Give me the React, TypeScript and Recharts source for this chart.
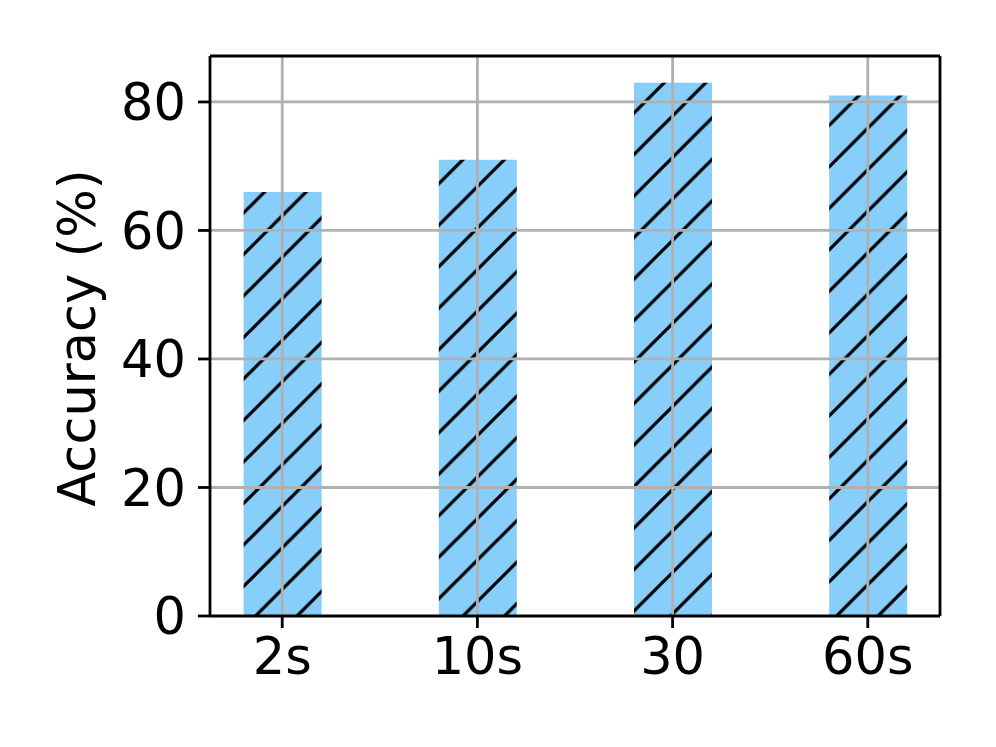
import React from 'react';
import { BarChart, Bar, XAxis, YAxis, ReferenceLine } from 'recharts';

const categories = ['2s', '10s', '30', '60s'];
const accuracy = [66, 71, 83, 81];
const yTicks = [0, 20, 40, 60, 80];
const xDomain: [number, number] = [-0.37, 3.37];
const yDomain: [number, number] = [0, 87.15];

const data = categories.map((c, i) => ({ x: i, name: c, value: accuracy[i] }));
const xTicks = categories.map((_, i) => i);

const FONT = 'DejaVu Sans';
const P = 41.5;

export default function App() {
  return (
    <div style={{ position: 'absolute', left: 0, top: 0, width: 996, height: 747, background: '#fff' }}>
      <BarChart
        width={996}
        height={747}
        data={data}
        margin={{ top: 56, right: 56, bottom: 0, left: 0 }}
        barSize={78}
      >
        <defs>
          <pattern id="hatch" patternUnits="userSpaceOnUse" width={P} height={P}>
            <rect x={0} y={0} width={P} height={P} fill="#87CEFA" />
            <path
              d={`M0,${P} L${P},0 M-2,2 L2,-2 M${P - 2},${P + 2} L${P + 2},${P - 2}`}
              stroke="#000"
              strokeWidth={3.3}
            />
          </pattern>
        </defs>
        <XAxis
          dataKey="x"
          type="number"
          domain={xDomain}
          allowDataOverflow
          ticks={xTicks}
          tickFormatter={(v: number) => categories[v]}
          height={131}
          tickSize={12}
          tickMargin={10}
          axisLine={{ stroke: '#000', strokeWidth: 2.8 }}
          tickLine={{ stroke: '#000', strokeWidth: 2.8 }}
          tick={{ fill: '#000', fontSize: 51, fontFamily: FONT }}
        />
        <YAxis
          type="number"
          domain={yDomain}
          allowDataOverflow
          ticks={yTicks}
          width={210}
          tickSize={12}
          tickMargin={12}
          axisLine={{ stroke: '#000', strokeWidth: 2.8 }}
          tickLine={{ stroke: '#000', strokeWidth: 2.8 }}
          tick={{ fill: '#000', fontSize: 51, fontFamily: FONT }}
          label={{
            content: () => (
              <text
                x={95}
                y={338}
                transform="rotate(-90, 95, 338)"
                textAnchor="middle"
                fontSize={51}
                fontFamily={FONT}
                fill="#000"
              >
                Accuracy (%)
              </text>
            ),
          }}
        />
        <Bar dataKey="value" fill="url(#hatch)" isAnimationActive={false} />
        {yTicks.filter((t) => t !== 0).map((t) => (
          <ReferenceLine key={'y' + t} y={t} stroke="#b0b0b0" strokeWidth={2.8} />
        ))}
        {xTicks.map((t) => (
          <ReferenceLine key={'x' + t} x={t} stroke="#b0b0b0" strokeWidth={2.8} />
        ))}
        <ReferenceLine y={yDomain[1]} stroke="#000" strokeWidth={2.8} ifOverflow="visible" />
        <ReferenceLine x={xDomain[1]} stroke="#000" strokeWidth={2.8} ifOverflow="visible" />
      </BarChart>
    </div>
  );
}
